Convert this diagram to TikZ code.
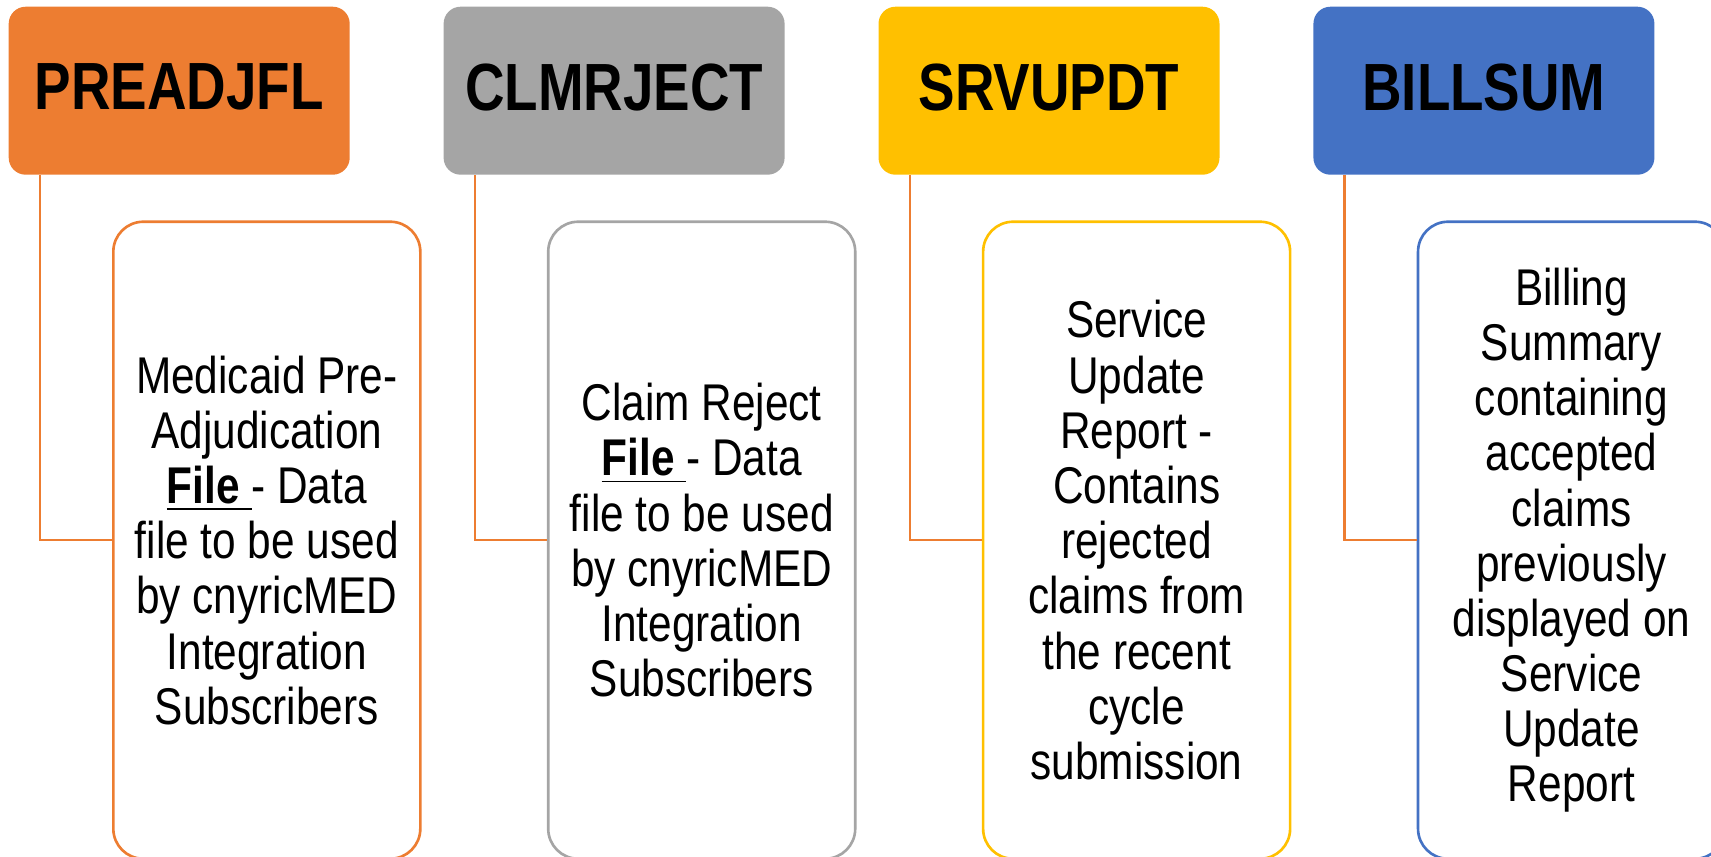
\documentclass[tikz,border=0pt]{standalone}
\usepackage{fontspec}
\setmainfont{Liberation Sans}[FakeStretch=0.82]
\usepackage{tikz}
\usetikzlibrary{positioning}
\definecolor{portocaliu}{HTML}{ED7D31}
\definecolor{gri}{HTML}{A5A5A5}
\definecolor{galben}{HTML}{FFC000}
\definecolor{albastru}{HTML}{4472C4}
\tikzset{
  antet/.style    = {rounded corners=1.7mm, minimum width=34.1mm, minimum height=16.8mm,
                     text depth=0.8mm, font=\fontsize{19pt}{22pt}\selectfont\bfseries},
  caseta/.style   = {draw, line width=0.75pt, rounded corners=3mm, fill=white, align=center,
                     minimum width=30.7mm, minimum height=63.7mm, inner sep=0pt,
                     font=\fontsize{14.7pt}{15.7pt}\selectfont},
  legatura/.style = {draw=portocaliu, line width=0.7pt}
}
\begin{document}
\begin{tikzpicture}[x=0.1mm, y=-0.1mm]
        \clip (0,0) rectangle (1711,856);

        \node[antet, fill=portocaliu, anchor=north west] (hpre) at (8,6) {PREADJFL};
        \node[antet, fill=gri, right=9.25mm of hpre] (hclm) {CLMRJECT};
        \node[antet, fill=galben, right=9.25mm of hclm] (hsrv) {SRVUPDT};
        \node[antet, fill=albastru, right=9.25mm of hsrv] (hbill) {BILLSUM};

        \node[caseta, draw=portocaliu, below right=4.5mm and 10.4mm of hpre.south west] (dpre)
            {Medicaid Pre-\\ Adjudication\\ \underline{\textbf{File }}- Data\\ file to be used\\
             by cnyricMED\\ Integration\\ Subscribers};
        \node[caseta, draw=gri, below right=4.5mm and 10.4mm of hclm.south west] (dclm)
            {Claim Reject\\ \underline{\textbf{File }}- Data\\ file to be used\\
             by cnyricMED\\ Integration\\ Subscribers};
        \node[caseta, draw=galben, below right=4.5mm and 10.4mm of hsrv.south west] (dsrv)
            {Service\\ Update\\ Report -\\ Contains\\ rejected\\ claims from\\ the recent\\
             cycle\\ submission};
        \node[caseta, draw=albastru, below right=4.5mm and 10.4mm of hbill.south west] (dbill)
            {Billing\\ Summary\\ containing\\ accepted\\ claims\\ previously\\ displayed on\\
             Service\\ Update\\ Report};

        \draw[legatura] ([xshift=3.2mm]hpre.south west) |- (dpre.west);
        \draw[legatura] ([xshift=3.2mm]hclm.south west) |- (dclm.west);
        \draw[legatura] ([xshift=3.2mm]hsrv.south west) |- (dsrv.west);
        \draw[legatura] ([xshift=3.2mm]hbill.south west) |- (dbill.west);
    \end{tikzpicture}
\end{document}
